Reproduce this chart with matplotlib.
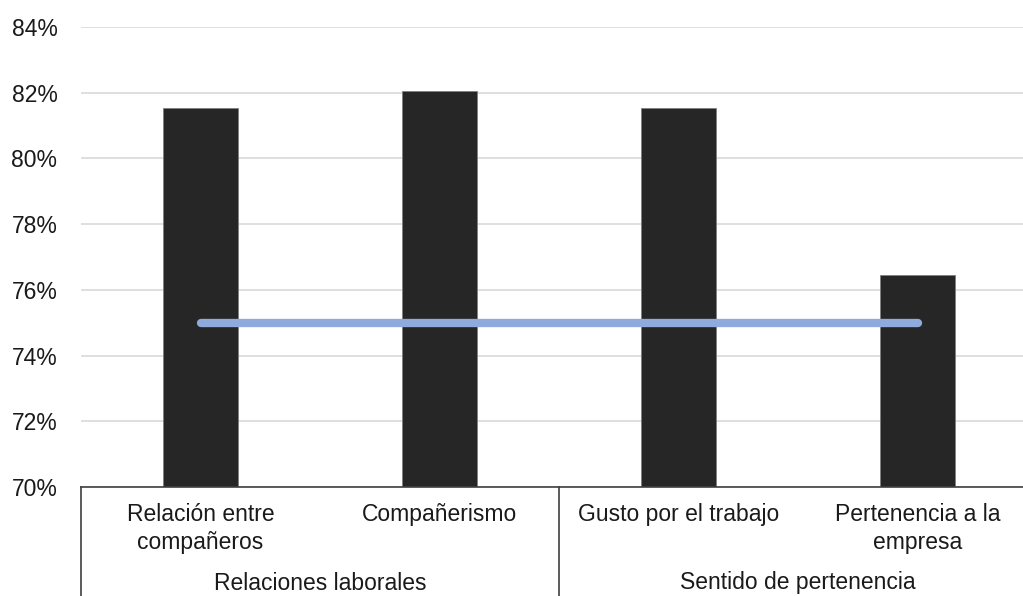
import matplotlib.pyplot as plt
import matplotlib.transforms as mtransforms
from matplotlib.ticker import FuncFormatter

plt.rcParams['font.family'] = ['Liberation Sans', 'DejaVu Sans']

categories = ['Relación entre\ncompañeros', 'Compañerismo',
              'Gusto por el trabajo', 'Pertenencia a la\nempresa']
groups = ['Relaciones laborales', 'Sentido de pertenencia']
group_sizes = [2, 2]
values = [81.55, 82.05, 81.55, 76.45]
target = [75, 75, 75, 75]
yticks = [70, 72, 74, 76, 78, 80, 82, 84]

W, H = 1023, 596
fig = plt.figure(figsize=(W / 100, H / 100), dpi=100)
ax_h = 460
ax = fig.add_axes([81 / W, 109 / H, 956 / W, ax_h / H])

x = list(range(len(categories)))
ax.bar(x, values, width=0.314, color='#262626', edgecolor='#7f7f7f',
       linewidth=0.6, zorder=2)
ax.plot(x, target, color='#8faadc', linewidth=6, solid_capstyle='round', zorder=3)

ax.set_xlim(-0.5, len(categories) - 0.5)
ax.set_ylim(70, 84)
ax.set_yticks(yticks)
ax.yaxis.set_major_formatter(FuncFormatter(lambda v, p: f'{v:.0f}%'))
ax.tick_params(axis='y', length=0, pad=17, labelsize=16.5, labelcolor='#1a1a1a')
ax.set_xticks([])
ax.grid(axis='y', color='#d9d9d9', linewidth=1.2, zorder=0)
ax.set_axisbelow(True)
for side in ['left', 'right', 'top']:
    ax.spines[side].set_visible(False)
ax.spines['bottom'].set_color('#404040')
ax.spines['bottom'].set_linewidth(1.2)

# two-level category axis below the plot
trans = mtransforms.blended_transform_factory(ax.transData, ax.transAxes)
line_kw = dict(color='#404040', linewidth=1.2, clip_on=False, transform=trans)
bottom = -130 / ax_h
start = -0.5
ax.plot([start, start], [0, bottom], **line_kw)
for g, n in zip(groups, group_sizes):
    end = start + n
    ax.plot([end, end], [0, bottom], **line_kw)
    ax.text((start + end) / 2, -96 / ax_h, g, transform=trans, ha='center',
            va='center', fontsize=16.5, color='#1a1a1a')
    start = end

for xi, lab in zip(x, categories):
    ax.text(xi, -16 / ax_h, lab, transform=trans, ha='center', va='top',
            fontsize=16.5, color='#1a1a1a', linespacing=1.25)

fig.savefig('out.png', dpi=100)
